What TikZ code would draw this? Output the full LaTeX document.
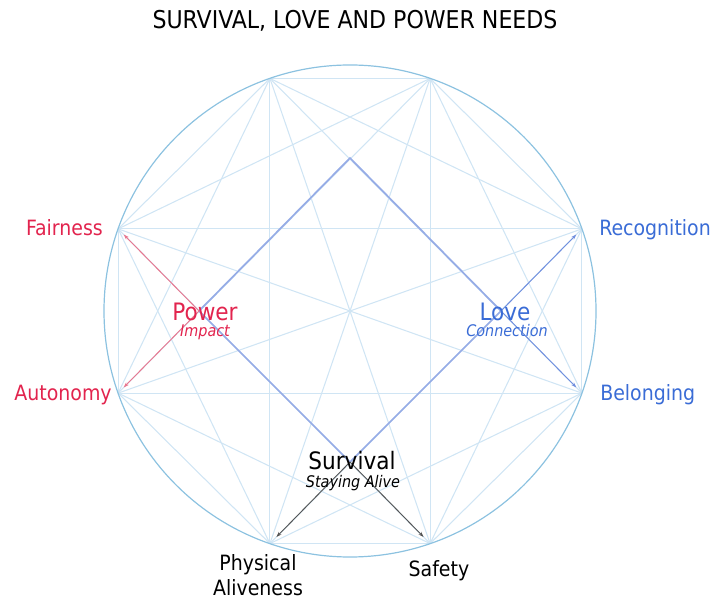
\documentclass[tikz,border=0pt]{standalone}
\usepackage{fontspec}
\setmainfont{DejaVu Sans Condensed}
\usetikzlibrary{arrows.meta,calc}
\definecolor{needred}{RGB}{226,36,78}
\definecolor{needblue}{RGB}{58,108,214}
\definecolor{chordblue}{RGB}{208,229,244}
\definecolor{ringblue}{RGB}{140,194,224}
\definecolor{sideblue}{RGB}{150,172,230}
\definecolor{redtip}{RGB}{234,118,142}
\definecolor{bluetip}{RGB}{112,142,222}
\definecolor{graytip}{RGB}{85,85,85}
\begin{document}
\begin{tikzpicture}
  [x=0.75pt,y=0.75pt,
   chord/.style={draw=chordblue,line width=0.8pt},
   side/.style={draw=sideblue,line width=1.3pt},
   tip/.style={-{Stealth[length=4pt,width=2.8pt]},line width=0.7pt,shorten >=6pt},
   need/.style={font=\fontsize{15.8}{18.75}\selectfont,inner sep=0pt},
   group/.style={font=\fontsize{18}{22}\selectfont,inner sep=0pt},
   sub/.style={font=\fontsize{12}{14}\selectfont\itshape,inner sep=0pt}]
  \useasboundingbox (0,0) rectangle (712,599);
  \coordinate (c) at (350,288);
  \foreach \n/\a in {v1/71,v2/109,v3/160.5,v4/199.5,v5/251,v6/289,v7/340.5,v8/19.5}
    \coordinate (\n) at ($(c)+(\a:246)$);
  \foreach \i in {1,...,7}{
    \pgfmathtruncatemacro\k{\i+1}
    \foreach \j in {\k,...,8}
      \draw[chord] (v\i) -- (v\j);
  }
  \draw[ringblue,line width=0.9pt] (c) circle [radius=184.5pt];
  \coordinate (apex) at (350,441);
  \coordinate (power) at (199,288);
  \coordinate (love) at (501,288);
  \coordinate (survival) at (350,137);
  \draw[side] (power) -- (apex) -- (love) -- (survival) -- cycle;
  \foreach \to in {v3,v4}
    \draw[tip,redtip] (power) -- (\to);
  \foreach \to in {v8,v7}
    \draw[tip,bluetip] (love) -- (\to);
  \foreach \to in {v5,v6}
    \draw[tip,graytip,shorten >=7pt] (survival) -- (\to);
  \node[font=\fontsize{18.4}{22}\selectfont,inner sep=0pt,anchor=base] (title) at (355,570) {SURVIVAL, LOVE AND POWER NEEDS};
  \node[need,needred,anchor=base east] (fairness) at (103,363) {Fairness};
  \node[need,needred,anchor=base east] (autonomy) at (112,198) {Autonomy};
  \node[need,needblue,anchor=base west] (recognition) at (599,363) {Recognition};
  \node[need,needblue,anchor=base west] (belonging) at (600,198) {Belonging};
  \node[need,anchor=north,align=center] (physical) at (258,45) {Physical\\Aliveness};
  \node[need,anchor=base] (safety) at (439,23) {Safety};
  \node[group,needred,anchor=base] (powerlabel) at (205,278) {Power};
  \node[sub,needred,anchor=base] (impact) at (205,262) {Impact};
  \node[group,needblue,anchor=base] (lovelabel) at (505,278) {Love};
  \node[sub,needblue,anchor=base] (connection) at (507,262) {Connection};
  \node[group,anchor=base] (survivallabel) at (352,130) {Survival};
  \node[sub,anchor=base] (alive) at (353,112) {Staying Alive};
\end{tikzpicture}
\end{document}
